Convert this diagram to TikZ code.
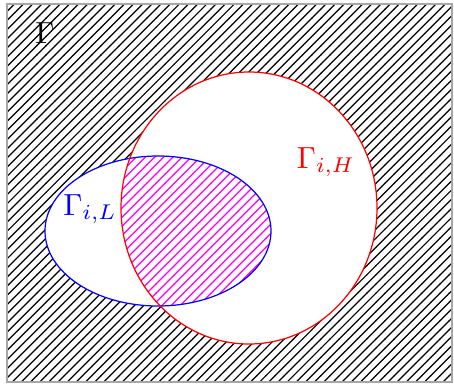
\documentclass[tikz,border=0pt]{standalone}
\usetikzlibrary{patterns}

\begin{document}
\begin{tikzpicture}[
  x=0.0115cm, y=-0.0115cm,
  universe/.style   = {draw=gray!70, pattern=north east lines},
  setL/.style       = {draw=blue},
  setH/.style       = {draw=red},
  overlap/.style    = {pattern=north east lines, pattern color=magenta},
]
\useasboundingbox (0,0) rectangle (454,385);

% ── DOMAIN ───────────────────────────────────────────────────────────────────
\draw[universe] (7,4) rectangle (452,382);
\node (gam) at (45,33) {$\Gamma$};

% ── SETS (cleared) ──────────────────────────────────────────────────────────
\fill[white] (158,231) ellipse [x radius=113, y radius=75];
\fill[white] (249,208) ellipse [x radius=128, y radius=136];

% ── OVERLAP ─────────────────────────────────────────────────────────────────
\begin{scope}
  \clip (158,231) ellipse [x radius=113, y radius=75];
  \fill[overlap] (249,208) ellipse [x radius=128, y radius=136];
\end{scope}

% ── OUTLINES ────────────────────────────────────────────────────────────────
\draw[setL] (158,231) ellipse [x radius=113, y radius=75];
\draw[setH] (249,208) ellipse [x radius=128, y radius=136];

% ── LABELS ──────────────────────────────────────────────────────────────────
\node[blue] (gamL) at (90,209) {$\Gamma_{i,L}$};
\node[red]  (gamH) at (326,162) {$\Gamma_{i,H}$};

\end{tikzpicture}
\end{document}
